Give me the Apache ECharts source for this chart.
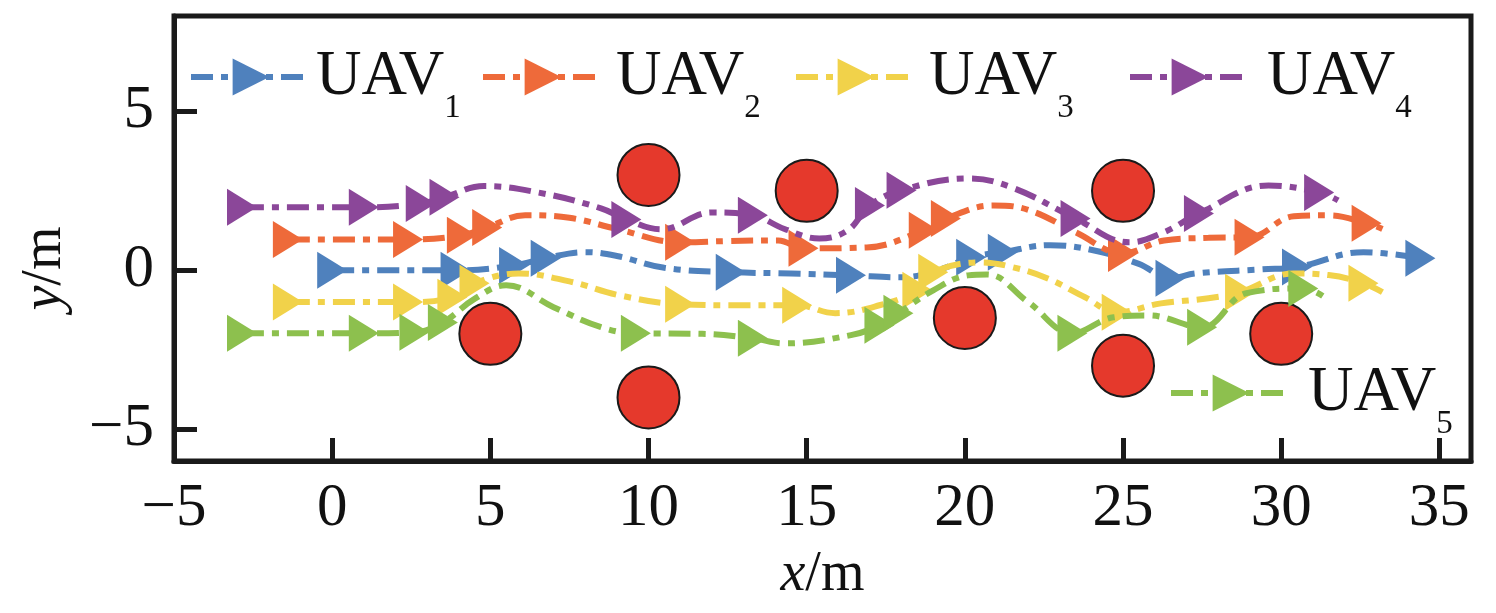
<!DOCTYPE html>
<html>
<head>
<meta charset="utf-8">
<script src="https://cdn.jsdelivr.net/npm/echarts@6/dist/echarts.min.js"></script>
<style>
  html, body { margin: 0; padding: 0; background: #fff; }
  #chart { width: 1496px; height: 613px; }
</style>
</head>
<body>
<div id="chart"></div>
<script>
// UAV paths: [x, y, marker] — marker 1 means a triangle is drawn at that waypoint
const uav1 = [[0, 0, 1], [2, 0, 0], [3.9, 0, 1], [5.75, 0.15, 1], [6.75, 0.38, 1], [8, 0.57, 0], [9, 0.45, 0],
  [10.5, 0.08, 0], [12.6, -0.06, 1], [14.5, -0.1, 0], [16.4, -0.16, 1], [18, -0.22, 0], [19.2, 0.02, 0],
  [20.2, 0.41, 1], [21.2, 0.57, 1], [22.7, 0.79, 0], [24.2, 0.6, 0], [25.5, 0.2, 0], [26.5, -0.25, 1],
  [27.3, -0.1, 0], [29.4, 0.03, 0], [30.5, 0.1, 1], [32.6, 0.57, 0], [34.4, 0.38, 1]];
const uav2 = [[-1.4, 0.97, 1], [0.5, 0.97, 0], [2.4, 0.97, 1], [4.1, 1.1, 1], [4.9, 1.35, 1], [6.1, 1.73, 0],
  [7.5, 1.65, 0], [9, 1.3, 0], [11, 0.88, 1], [12.5, 0.92, 0], [14.1, 0.94, 0], [14.9, 0.69, 1],
  [16.9, 0.72, 0], [18.7, 1.26, 1], [19.4, 1.63, 1], [20.9, 2.04, 0], [22, 1.9, 0], [23.5, 1.2, 0],
  [25, 0.53, 1], [26.3, 0.94, 0], [27.7, 1.02, 0], [29, 1.04, 1], [30.4, 1.7, 0], [31.5, 1.73, 0],
  [32.7, 1.48, 1], [33.2, 1.3, 0]];
const uav3 = [[-1.4, -1, 1], [0.5, -1, 0], [2.4, -1, 1], [3.8, -0.85, 1], [4.5, -0.41, 1], [5.9, -0.1, 0],
  [7.5, -0.35, 0], [9.1, -0.79, 0], [11, -1.07, 1], [13, -1.1, 0], [14.7, -1.1, 1], [15.9, -1.35, 0],
  [17.3, -1.1, 0], [18.5, -0.63, 1], [19, -0.06, 1], [20.5, 0.25, 0], [21.5, 0.1, 0], [22.6, -0.25, 0],
  [23.8, -0.85, 0], [24.8, -1.32, 1], [26.2, -1.04, 0], [27.7, -0.88, 0], [28.7, -0.69, 1], [30.4, -0.1, 0],
  [31.5, -0.15, 0], [32.6, -0.41, 1], [33.2, -0.69, 0]];
const uav4 = [[-2.85, 1.98, 1], [1, 1.98, 1], [2.8, 2.1, 1], [3.55, 2.3, 1], [4.8, 2.65, 0], [6.5, 2.45, 0],
  [8.5, 1.95, 0], [9.3, 1.6, 1], [10.4, 1.29, 0], [12, 1.82, 0], [13.3, 1.73, 1], [14.3, 1.3, 0],
  [15.4, 1, 0], [16.3, 1.26, 0], [17, 2.04, 1], [18, 2.52, 1], [20.1, 2.89, 0], [21.5, 2.6, 0],
  [23.5, 1.63, 1], [25.2, 0.88, 0], [26.3, 1.2, 0], [27.4, 1.79, 1], [29.6, 2.67, 0], [31.2, 2.45, 1],
  [31.8, 2.2, 0]];
const uav5 = [[-2.85, -1.98, 1], [1, -1.98, 1], [2.6, -1.95, 1], [3.5, -1.64, 1], [4.5, -0.9, 0], [5.5, -0.47, 0],
  [7, -1.16, 0], [8.5, -1.79, 0], [9.6, -1.98, 1], [11.7, -2, 0], [13.3, -2.14, 1], [14.3, -2.3, 0],
  [16.4, -2.04, 0], [17.3, -1.73, 1], [17.9, -1.35, 1], [19, -0.63, 0], [20.1, -0.16, 0], [20.7, -0.13, 0],
  [22, -1, 0], [23.4, -1.98, 1], [24.7, -1.48, 0], [25.8, -1.42, 0], [27.5, -1.79, 1], [28.9, -0.72, 0],
  [30.7, -0.57, 1], [31.5, -0.94, 0]];
// obstacle centres
const obstacles = [[10, 3], [15, 2.5], [25, 2.5], [5, -2], [20, -1.5], [25, -3], [30, -2], [10, -4]];

const uavNames = ["UAV1", "UAV2", "UAV3", "UAV4", "UAV5"];
const xTicks = [-5, 0, 5, 10, 15, 20, 25, 30, 35];
const yTicks = [-5, 0, 5];

const paths = [uav1, uav2, uav3, uav4, uav5];
const colors = ["#4f81bd", "#ee6a3a", "#f1d24a", "#8b4799", "#8dc04e"];
const font = "Liberation Serif";
const ink = "#111";
const dash = [22, 8, 7, 8];

var myChart = echarts.init(document.getElementById("chart"));

const fmt = (v) => (v < 0 ? "\u2212" + Math.abs(v) : String(v));

const legendBox = (name, left, top, gap) => {
  return {
    data: [name],
    left: left,
    top: top,
    padding: 0,
    itemWidth: 120,
    itemHeight: 46,
    selectedMode: false,
    lineStyle: { width: 6, type: dash },
    formatter: (n) => "{a|UAV}{s|" + n.slice(3) + "}",
    textStyle: {
      rich: {
        a: { fontFamily: font, fontSize: 63, color: ink, lineHeight: 95, padding: [0, 0, 0, gap] },
        s: { fontFamily: font, fontSize: 33, color: ink, verticalAlign: "bottom", lineHeight: 33 },
      },
    },
  };
};

const uavSeries = paths.map((pts, i) => {
  return {
    name: uavNames[i],
    type: "line",
    data: pts.map((p) =>
      p[2] ? { value: [p[0], p[1]] } : { value: [p[0], p[1]], symbol: "none" }
    ),
    smooth: 0.4,
    symbol: "triangle",
    symbolSize: [37, 30],
    symbolRotate: -90,
    showAllSymbol: true,
    lineStyle: { color: colors[i], width: 6, type: dash },
    itemStyle: { color: colors[i] },
    z: 3 + i,
  };
});

var option = {
  backgroundColor: "#fff",
  animation: false,
  grid: {
    left: 174,
    right: 25,
    top: 16,
    bottom: 152,
    outerBoundsMode: "none",
    containLabel: false,
    show: true,
    borderWidth: 5,
    borderColor: "#1a1a1a",
  },
  legend: [
    legendBox("UAV1", 188, 45.5, 0),
    legendBox("UAV2", 480, 45.5, 8),
    legendBox("UAV3", 793, 45.5, 8),
    legendBox("UAV4", 1127, 45.5, 12),
    legendBox("UAV5", 1168, 361.5, 12),
  ],
  xAxis: {
    type: "value",
    min: -5,
    max: 36,
    name: "{i|x}/m",
    nameLocation: "middle",
    nameGap: 86,
    nameTextStyle: {
      fontFamily: font,
      fontSize: 56,
      color: ink,
      rich: { i: { fontFamily: font, fontSize: 56, fontStyle: "italic", color: ink } },
    },
    axisLine: { show: true, onZero: false, lineStyle: { color: "#1a1a1a", width: 5 } },
    axisTick: { inside: true, length: 23, customValues: xTicks, lineStyle: { color: "#1a1a1a", width: 5 } },
    axisLabel: { customValues: xTicks, formatter: fmt, margin: 17, fontFamily: font, fontSize: 61, color: ink },
    splitLine: { show: false },
  },
  yAxis: {
    type: "value",
    min: -6,
    max: 8,
    name: "{i|y}/m",
    nameLocation: "middle",
    nameGap: 101,
    nameTextStyle: {
      fontFamily: font,
      fontSize: 56,
      color: ink,
      padding: [0, 60, 0, 0],
      rich: { i: { fontFamily: font, fontSize: 56, fontStyle: "italic", color: ink } },
    },
    axisLine: { show: true, onZero: false, lineStyle: { color: "#1a1a1a", width: 5 } },
    axisTick: { inside: true, length: 23, customValues: yTicks, lineStyle: { color: "#1a1a1a", width: 5 } },
    axisLabel: { customValues: yTicks, formatter: fmt, margin: 20, fontFamily: font, fontSize: 61, color: ink },
    splitLine: { show: false },
  },
  series: [
    {
      name: "obstacle",
      type: "scatter",
      data: obstacles,
      symbol: "circle",
      symbolSize: 62,
      itemStyle: { color: "#e5392c", borderColor: "#1a1a1a", borderWidth: 2, opacity: 1 },
      silent: true,
      z: 2,
    },
  ].concat(uavSeries),
};

myChart.setOption(option);
window.addEventListener("resize", function () {
  myChart.resize();
});
</script>
</body>
</html>
